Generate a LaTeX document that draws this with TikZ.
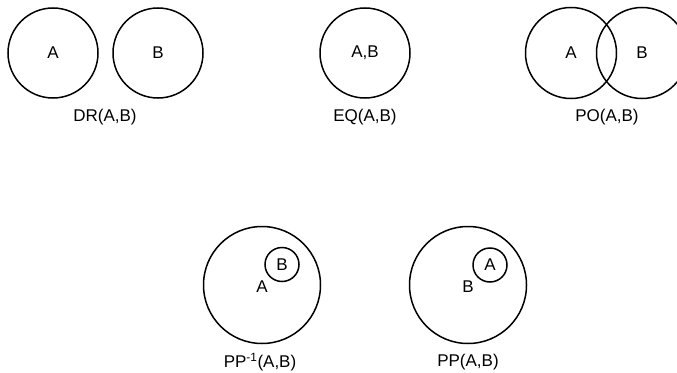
\documentclass[tikz,border=0pt]{standalone}
\usepackage{fontspec}
\setmainfont{Liberation Sans}
\begin{document}
\begin{tikzpicture}[x=1pt, y=-1pt,
		region/.style={draw, circle, line width=1.5pt, inner sep=0pt, font=\fontsize{17}{20}\selectfont},
		caption/.style={font=\fontsize{17}{20}\selectfont, inner sep=0pt}]
					\useasboundingbox (0,0) rectangle (677,372);
					
					\node[region, minimum size=90pt] (dra) at (53,53) {A};
					\node[region, minimum size=90pt] (drb) at (158,53) {B};
					\node[caption] (drlabel) at (105,117) {DR(A,B)};
					
					\node[region, minimum size=90pt] (eq) at (365,53) {A,B};
					\node[caption] (eqlabel) at (365,117) {EQ(A,B)};
					
					\node[region, minimum size=91pt] (poa) at (571,53) {A};
					\node[region, minimum size=91pt] (pob) at (642,53) {B};
					\node[caption] (polabel) at (607,117) {PO(A,B)};
					
					\node[region, minimum size=117pt] (ppia) at (262,285) {};
					\node[caption] (ppiatext) at (262,287) {A};
					\node[region, minimum size=34pt] (ppib) at (282,264.5) {B};
					\node[caption] (ppilabel) at (260,362) {PP\textsuperscript{-1}(A,B)};
					
					\node[region, minimum size=117pt] (ppb) at (468,285) {};
					\node[caption] (ppbtext) at (468,287) {B};
					\node[region, minimum size=34pt] (ppa) at (490,265) {A};
					\node[caption] (pplabel) at (468,362) {PP(A,B)};
					
					\end{tikzpicture}
\end{document}
